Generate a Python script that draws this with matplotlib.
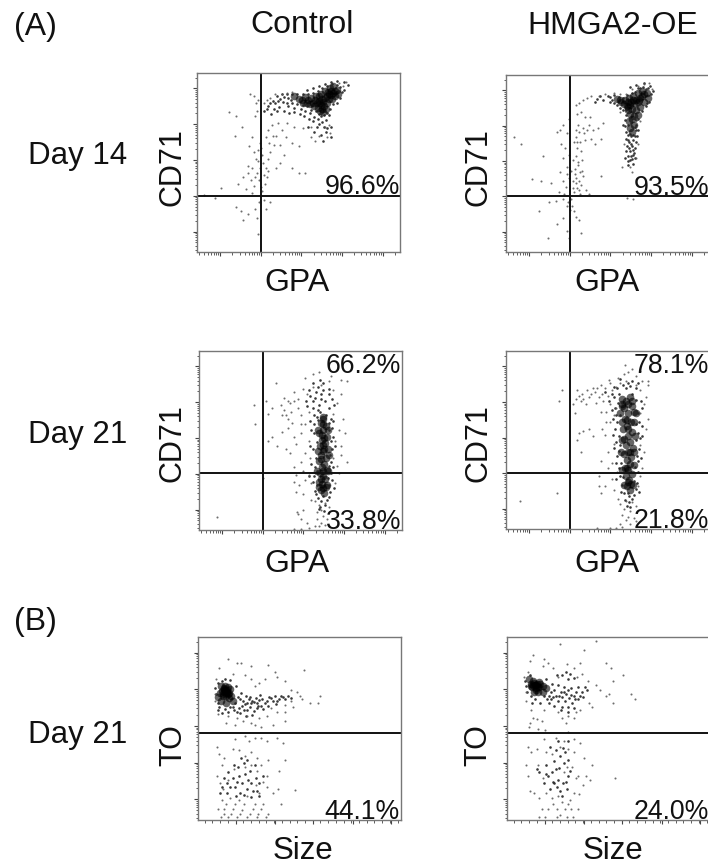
import numpy as np
import matplotlib
matplotlib.use("Agg")
import matplotlib.pyplot as plt

plt.rcParams['font.family'] = ['Liberation Sans', 'DejaVu Sans']

W = 708
H = 867

# events, channel units 0-1000 on both axes
# "dense" = centres of the dark part of a cloud, "cloud" = dots around the dark part,
# "sparse" = the single dots further out
p1_dense = [(590,830),(600,845),(610,820),(580,850),(570,835),(620,840),(630,860),(640,870),(650,880),(660,875),(670,890),(680,900),(690,905),(660,900),(650,855),(640,835),(625,815),(615,800),(605,790),(620,780),(635,800),(600,870),(585,870),(560,860),(545,850),(530,865),(515,850),(500,855),(480,870),(680,870),(695,885),(670,925),(655,915),(630,900),(610,885),(595,805),(575,815),(555,825),(605,835),(615,855),(645,895),(665,855),(520,835),(540,830)]
p1_cloud = [(465,850),(450,860),(430,865),(410,855),(395,870),(375,845),(445,835),(470,830),(495,825),(520,820),(540,815),(560,795),(585,785),(600,770),(625,765),(610,760),(640,775),(655,800),(670,825),(690,835),(705,860),(715,895),(705,920),(690,935),(665,940),(640,925),(615,915),(595,900),(570,890),(545,885),(520,885),(495,880),(470,885),(445,880),(420,880),(400,845),(385,830),(360,835),(350,815),(425,840),(450,815),(480,805),(510,800),(530,790),(555,775),(575,755),(595,745),(615,725),(635,740),(650,765),(600,715),(625,700),(640,690),(590,700),(570,730),(550,745),(525,760),(505,770),(480,780),(455,775),(430,790),(405,810),(380,800),(365,770),(395,785),(345,800),(330,790),(610,655),(635,670),(660,700),(660,640),(620,620),(575,670),(545,700),(700,900),(725,905),(725,950),(745,935),(570,915),(540,905),(600,925),(630,940),(660,950),(690,955)]
p1_sparse = [(330,830),(345,850),(360,860),(385,880),(420,885),(445,890),(470,895),(700,945),(720,925),(735,950),(650,710),(630,700),(655,665),(640,640),(600,650),(580,620),(560,640),(400,720),(420,680),(440,640),(470,610),(500,590),(390,650),(380,600),(360,560),(350,520),(340,470),(330,430),(345,420),(390,470),(410,500),(430,540),(470,470),(500,440),(530,440),(370,710),(350,680),(340,640),(355,610),(375,650),(410,600),(445,720),(480,700),(520,690),(560,700),(300,850),(290,830),(280,870),(260,880),(295,790),(285,760),(190,760),(220,700),(185,650),(160,780),(270,640),(255,590),(300,570),(310,610),(290,520),(270,470),(250,440),(225,420),(310,470),(295,440),(305,400),(280,370),(240,350),(200,380),(120,360),(35,320),(90,300),(330,290),(305,280),(285,240),(250,210),(215,230),(190,250),(340,240),(360,280),(295,190),(225,180),(300,100),(320,340),(270,330),(300,510),(320,540),(315,580),(280,560),(325,500),(335,380),(350,450),(285,420),(265,400),(315,365),(250,480)]

p2_dense = [(659,869),(640,860),(670,880),(680,890),(650,845),(630,840),(610,831),(595,825),(580,835),(565,845),(620,810),(640,800),(660,820),(680,850),(695,900),(700,870),(670,910),(650,900),(625,880),(605,870),(585,860),(545,865),(610,780),(620,750),(630,720),(610,700),(620,680),(615,845),(600,845),(600,800),(650,775),(630,770),(605,740),(560,860),(600,820),(625,860),(655,860)]
p2_cloud = [(615,653),(520,860),(510,875),(480,860),(625,630),(605,620),(620,600),(610,570),(625,550),(610,521),(600,660),(640,690),(635,655),(690,920),(660,925),(635,905),(590,800),(555,875),(575,870),(595,885),(620,900),(650,925),(675,935),(700,925),(715,890),(705,850),(690,825),(670,795),(650,750),(640,720),(650,690),(645,655),(640,620),(635,590),(630,560),(590,640),(595,600),(590,570),(585,530),(600,545),(620,525),(600,490),(625,500),(590,680),(585,710),(585,745),(590,775),(575,800),(560,815),(545,830),(530,840),(510,845),(500,880),(530,885),(465,880),(450,865),(440,850),(575,715),(610,805),(625,790),(640,745),(615,730),(600,715),(635,705),(612,665),(625,660),(600,635),(615,610),(628,575),(605,590),(615,540),(600,515),(635,530),(665,845),(645,825),(695,840),(725,910),(710,940),(680,955),(640,945),(610,930)]
p2_sparse = [(420,880),(460,880),(490,890),(530,900),(560,890),(590,895),(620,920),(650,940),(680,950),(705,955),(720,920),(660,740),(650,610),(640,530),(580,610),(560,790),(380,860),(400,870),(360,840),(345,830),(570,480),(610,480),(620,450),(595,305),(625,300),(350,780),(370,790),(390,760),(410,720),(430,690),(455,700),(480,730),(380,700),(360,680),(345,650),(335,620),(365,620),(390,630),(420,640),(440,610),(470,640),(350,590),(370,570),(345,540),(375,520),(355,490),(340,470),(365,450),(380,430),(345,420),(330,400),(370,380),(395,350),(350,360),(335,340),(365,330),(410,330),(470,430),(310,750),(280,720),(265,690),(300,670),(270,610),(290,590),(310,550),(280,530),(300,480),(265,450),(280,400),(295,370),(310,420),(260,340),(220,390),(170,400),(130,410),(75,610),(40,650),(250,680),(180,540),(320,300),(305,280),(280,300),(245,290),(210,280),(165,230),(315,240),(335,230),(345,200),(360,180),(280,190),(250,160),(300,120),(205,80),(370,110),(310,80),(285,330),(355,510),(340,440),(360,400),(375,460),(350,620),(385,670),(400,690),(415,760),(355,720),(345,690),(330,520),(320,460),(300,440),(330,360),(345,390),(360,350),(325,260),(300,260)]

p3_dense = [(613,632),(600,600),(625,580),(610,560),(590,540),(630,520),(605,505),(620,485),(595,470),(635,455),(610,440),(600,420),(625,405),(590,385),(615,370),(605,350),(630,335),(595,320),(610,300),(620,285),(590,270),(605,255),(625,240),(600,225),(615,205),(610,620),(605,530),(618,450),(603,395),(612,330),(600,285),(612,235),(610,590),(615,515),(612,475),(585,560),(635,560),(585,440),(640,420),(580,330),(635,330),(590,240),(630,250)]
p3_cloud = [(610,190),(598,660),(625,640),(585,615),(640,560),(580,490),(645,420),(575,400),(640,360),(580,330),(635,290),(580,250),(640,250),(590,700),(570,740),(600,760),(620,720),(560,680),(640,680),(580,630),(640,600),(560,720),(545,750),(575,770),(610,780),(640,760),(655,730),(600,730),(585,670),(565,640),(650,620),(655,570),(565,590),(565,540),(650,500),(560,450),(655,450),(570,350),(650,380),(565,300),(650,320),(560,270),(655,280),(570,220),(645,210),(585,180),(630,170),(600,160),(620,140),(585,800),(560,820),(610,820),(540,780),(595,840),(525,720),(530,690),(665,700),(640,790),(660,610),(545,610),(550,560),(660,520),(545,470),(670,470),(550,370),(660,350),(540,300),(665,235),(575,200),(640,185),(595,130),(615,105),(590,115)]
p3_sparse = [(560,870),(520,850),(590,880),(650,860),(700,840),(730,830),(640,830),(600,810),(560,800),(510,790),(470,770),(440,720),(380,820),(420,740),(450,710),(490,730),(530,760),(660,780),(700,760),(680,710),(660,650),(710,620),(690,560),(720,540),(670,500),(700,470),(660,400),(680,360),(690,320),(670,260),(540,660),(500,640),(520,590),(460,600),(430,640),(420,670),(440,570),(470,520),(500,540),(480,480),(450,430),(520,430),(540,500),(500,380),(470,350),(480,310),(510,330),(520,280),(495,250),(470,270),(480,210),(510,200),(540,310),(550,260),(545,400),(550,170),(570,160),(590,140),(620,150),(600,110),(640,130),(580,100),(610,80),(630,60),(580,60),(600,40),(620,30),(590,20),(570,25),(640,20),(540,12),(500,8),(470,8),(510,110),(490,90),(410,550),(430,450),(385,470),(360,520),(340,650),(330,720),(270,700),(275,590),(340,500),(315,290),(90,70),(485,100),(500,60),(530,40),(360,680),(700,420),(730,380),(440,620),(405,700),(410,640),(490,680),(500,590),(455,660),(470,720)]

p4_dense = [(602,650),(585,620),(615,600),(595,580),(575,560),(620,545),(600,525),(580,505),(610,490),(590,470),(625,455),(600,435),(580,420),(615,405),(595,385),(610,365),(585,345),(600,330),(620,310),(590,295),(605,275),(615,255),(595,240),(610,220),(570,690),(600,700),(630,660),(580,680),(620,690),(600,560),(610,430),(595,340),(600,265),(590,720),(610,740),(570,730),(595,610),(570,600),(630,600),(570,500),(635,520),(565,430),(630,430),(570,330),(630,360),(580,250),(625,250),(560,650),(640,650),(570,700),(620,720)]
p4_cloud = [(600,200),(605,183),(560,640),(640,590),(555,520),(640,500),(555,440),(645,410),(565,370),(635,350),(575,290),(630,270),(545,600),(650,540),(560,470),(555,760),(530,740),(590,790),(620,760),(640,725),(550,710),(535,680),(650,650),(540,640),(655,600),(535,560),(660,510),(540,490),(655,450),(545,410),(650,380),(555,340),(650,320),(560,300),(645,260),(570,250),(640,225),(580,200),(630,190),(585,165),(620,170),(605,150),(595,130),(610,125),(575,810),(545,790),(610,805),(640,790),(520,760),(505,720),(665,720),(670,680),(520,670),(525,620),(668,580),(525,530),(672,520),(530,455),(665,400),(540,370),(540,280),(655,210),(565,210),(600,820),(560,840),(620,830),(650,820),(490,770),(530,800)]
p4_sparse = [(590,830),(560,820),(540,800),(520,780),(490,790),(500,750),(480,720),(510,700),(640,810),(670,830),(700,810),(660,780),(690,740),(680,700),(660,650),(700,620),(690,560),(660,470),(680,430),(670,340),(660,300),(650,240),(530,640),(510,600),(490,530),(530,480),(500,430),(520,370),(545,320),(520,280),(490,240),(530,220),(470,200),(460,300),(470,380),(550,170),(560,140),(590,160),(620,150),(640,130),(580,110),(610,100),(570,80),(600,70),(630,60),(590,50),(560,30),(610,30),(570,10),(540,5),(510,5),(450,6),(640,45),(400,780),(420,760),(380,730),(360,750),(395,700),(430,790),(450,790),(350,780),(330,700),(370,720),(340,650),(380,550),(410,560),(350,500),(360,540),(370,430),(430,520),(470,660),(510,820),(550,850),(580,870),(600,880),(640,860),(585,920),(620,900),(660,885),(700,830),(460,740),(475,760),(445,710),(275,780),(260,720),(70,160),(250,200),(500,340),(460,240),(560,700),(540,680),(495,660),(375,760),(410,740),(345,730),(440,770),(470,810),(505,835),(495,600),(475,560)]

p5_dense = [(130,715),(145,700),(125,690),(150,725),(140,680),(120,705),(155,695),(135,730),(110,695),(160,715),(115,730),(165,680),(130,720),(142,712),(128,700),(148,690),(138,695),(135,712),(122,678),(155,665),(100,670),(115,650),(140,640),(170,650)]
p5_cloud = [(195,670),(220,650),(240,640),(265,650),(290,640),(315,660),(340,650),(370,650),(400,660),(430,660),(460,665),(120,760),(105,620),(135,605),(170,620),(200,610),(240,600),(290,610),(320,605),(97,640),(90,690),(85,720),(100,750),(135,770),(160,765),(185,730),(210,695),(235,675),(255,670),(285,665),(305,685),(350,670),(380,680),(410,675),(445,680),(175,600),(150,590),(120,585),(100,600),(215,625),(255,620),(275,595),(310,625),(345,625),(385,635),(205,585),(235,570),(265,575),(200,240),(215,200),(180,180),(240,170),(230,250),(205,150),(170,230),(260,200),(195,290),(225,310),(255,270),(285,230),(300,200),(270,160),(245,220),(190,210),(160,180),(145,200),(130,230),(150,260),(175,300),(210,340),(240,330),(280,300),(290,160),(320,240),(120,180),(110,150),(145,150),(185,130),(225,135),(260,125),(300,130),(205,660),(230,635),(250,660),(275,645),(300,655),(330,640),(360,665),(390,650),(420,670),(180,640),(160,620),(190,590),(225,600),(260,640),(295,625)]
p5_sparse = [(150,880),(105,830),(90,770),(170,800),(190,860),(210,860),(260,840),(230,790),(260,770),(300,750),(330,770),(280,730),(380,810),(390,780),(345,845),(430,760),(460,710),(520,820),(490,700),(510,660),(550,640),(460,650),(430,630),(360,610),(340,570),(300,560),(260,530),(220,540),(180,520),(140,530),(100,580),(85,650),(85,690),(150,570),(190,560),(240,570),(280,520),(310,510),(390,590),(430,590),(470,620),(500,680),(600,680),(590,640),(430,540),(370,520),(230,460),(180,440),(250,430),(280,450),(310,450),(340,430),(390,450),(420,420),(95,400),(105,360),(130,340),(170,390),(200,380),(230,350),(260,370),(290,340),(310,300),(345,330),(290,270),(340,240),(400,270),(120,300),(95,240),(110,200),(125,170),(150,220),(175,280),(230,290),(260,300),(320,210),(340,180),(370,150),(395,170),(410,90),(480,165),(430,330),(300,150),(285,190),(240,130),(200,110),(160,120),(120,110),(100,60),(130,60),(170,60),(215,55),(270,60),(310,60),(115,15),(150,15),(190,15),(240,15),(290,15),(335,15),(130,35),(165,35),(205,35),(255,35),(295,35),(345,35),(140,90),(180,90),(225,85),(280,90),(320,90)]

p6_dense = [(140,735),(150,745),(125,725),(160,725),(130,760),(145,710),(120,745),(165,745),(110,770),(175,730),(155,700),(135,700),(145,740),(135,748),(152,728),(128,738),(142,722),(158,752),(120,730),(175,700),(190,720)]
p6_cloud = [(215,700),(240,680),(265,700),(290,690),(315,685),(340,700),(370,700),(395,710),(215,660),(250,650),(285,650),(300,620),(320,640),(180,680),(120,680),(270,790),(290,810),(310,800),(240,280),(200,240),(250,220),(230,320),(260,350),(275,200),(210,170),(245,180),(100,700),(95,730),(90,760),(115,790),(190,770),(220,745),(250,735),(280,725),(315,720),(350,725),(385,725),(245,790),(300,770),(330,775),(230,625),(205,640),(165,640),(140,660),(125,640),(270,620),(350,660),(375,670),(330,610),(300,590),(265,600),(300,330),(280,310),(255,285),(220,260),(190,300),(300,240),(295,170),(260,160),(225,210),(180,200),(160,260),(270,130),(240,380),(285,370),(210,400),(300,430),(250,430),(275,395),(230,200),(290,210),(310,270),(190,250),(150,280),(205,680),(230,710),(255,675),(280,700),(305,665),(330,680),(360,680),(195,660),(225,670),(270,670),(300,710),(335,660)]
p6_sparse = [(260,960),(440,980),(380,930),(490,860),(510,830),(520,760),(570,790),(460,710),(500,690),(490,680),(610,690),(630,660),(440,740),(520,640),(405,640),(420,620),(360,600),(340,590),(300,570),(250,590),(180,600),(120,600),(95,650),(95,700),(85,780),(105,810),(115,870),(130,900),(180,880),(175,840),(200,860),(225,830),(250,780),(295,850),(330,830),(360,860),(370,800),(345,780),(400,760),(130,560),(115,530),(110,510),(150,550),(170,540),(155,500),(185,490),(270,560),(290,530),(300,480),(330,560),(180,445),(240,450),(280,430),(330,440),(360,420),(105,400),(120,370),(150,390),(190,370),(220,360),(260,400),(300,390),(330,370),(380,340),(420,300),(95,300),(105,240),(115,160),(135,150),(160,120),(190,150),(220,120),(250,130),(270,100),(310,110),(330,150),(355,140),(350,240),(375,190),(390,240),(410,220),(530,230),(295,290),(155,300),(175,230),(280,260),(320,290),(340,230),(170,60),(200,60),(245,60),(285,60),(315,60),(350,60),(160,15),(185,15),(245,15),(295,15),(325,15),(260,30),(225,90),(300,90)]

percent_labels = [
    ["96.6%"], ["93.5%"],
    ["66.2%", "33.8%"], ["78.1%", "21.8%"],
    ["44.1%"], ["24.0%"],
]

# left, top, right, bottom in pixels of the page
boxes = [(197,73,400,252), (506,75,709,252), (199,351,402,530),
         (506,351,709,529), (198,637,401,820), (507,637,710,820)]
gates_x = [316, 316, 316, 316, None, None]
gates_y = [312, 315, 316, 316, 478, 478]
dense = [p1_dense, p2_dense, p3_dense, p4_dense, p5_dense, p6_dense]
cloud = [p1_cloud, p2_cloud, p3_cloud, p4_cloud, p5_cloud, p6_cloud]
sparse = [p1_sparse, p2_sparse, p3_sparse, p4_sparse, p5_sparse, p6_sparse]
ylabels = ["CD71", "CD71", "CD71", "CD71", "TO", "TO"]
xlabels = ["GPA", "GPA", "GPA", "GPA", "Size", "Size"]
ylabel_pos = [(173,167), (479,167), (173,443), (479,443), (173,745), (478,745)]
xlabel_pos = [(297,283), (607,283), (297,564), (607,564), (303,851), (613,851)]
percent_pos = [[(400,187)], [(709,188)], [(401,366),(401,522)], [(709,366),(709,521)],
               [(400,812)], [(709,812)]]


def log_ticks():
    major = [114, 314, 514, 714, 914]
    minor = []
    for m in [-86] + major:
        for f in range(2, 10):
            v = m + 200*np.log10(f)
            if 0 <= v <= 1000:
                minor.append(v)
    return major, minor


def page_text(x, y, s, size, ha='center', **kw):
    return fig.text(x/W, 1-y/H, s, fontsize=size, ha=ha, va='center', color='#111111', **kw)


fig = plt.figure(figsize=(W/100, H/100), dpi=100)

for i in range(6):
    l, t, r, b = boxes[i]
    ax = fig.add_axes([l/W, 1-b/H, (r-l)/W, (b-t)/H])
    d = np.array(dense[i]).T
    c = np.array(cloud[i]).T
    s = np.array(sparse[i]).T
    ax.scatter(d[0], d[1], s=30, c='black', linewidths=0, alpha=0.6)
    ax.scatter(c[0], c[1], s=3.5, c='#222222', linewidths=0, alpha=0.9)
    ax.scatter(s[0], s[1], s=2.2, c='#555555', linewidths=0, alpha=0.85)
    ax.set_xlim(0, 1000)
    ax.set_ylim(0, 1000)

    if gates_x[i] is not None:
        ax.axvline(gates_x[i], color='#111111', lw=1.4)
    ax.axhline(gates_y[i], color='#111111', lw=1.4)

    major, minor = log_ticks()
    ax.set_yticks(major)
    ax.set_yticks(minor, minor=True)
    if i < 4:
        ax.set_xticks(major)
        ax.set_xticks(minor, minor=True)
    else:
        ax.set_xticks([185, 377, 566, 762, 951])
        ax.set_xticks(np.arange(33, 1000, 38), minor=True)
    ax.tick_params(which='major', length=3, width=0.8, color='#444444', direction='out',
                   labelleft=False, labelbottom=False)
    ax.tick_params(which='minor', length=1.8, width=0.6, color='#444444', direction='out')
    for sp in ax.spines.values():
        sp.set_color('#777777')
        sp.set_linewidth(1.0)

    page_text(ylabel_pos[i][0], ylabel_pos[i][1], ylabels[i], 22, rotation=90)
    page_text(xlabel_pos[i][0], xlabel_pos[i][1], xlabels[i], 23 if i < 4 else 22.5)
    for txt, pos in zip(percent_labels[i], percent_pos[i]):
        page_text(pos[0], pos[1], txt, 19.2, ha='right')

page_text(14, 27, "(A)", 23, ha='left')
page_text(14, 622, "(B)", 23, ha='left')
page_text(302, 25, "Control", 23)
page_text(613, 26, "HMGA2-OE", 23)
page_text(28, 156, "Day 14", 22.5, ha='left')
page_text(28, 435, "Day 21", 22.5, ha='left')
page_text(28, 735, "Day 21", 22.5, ha='left')

fig.savefig("out.png", dpi=100)
